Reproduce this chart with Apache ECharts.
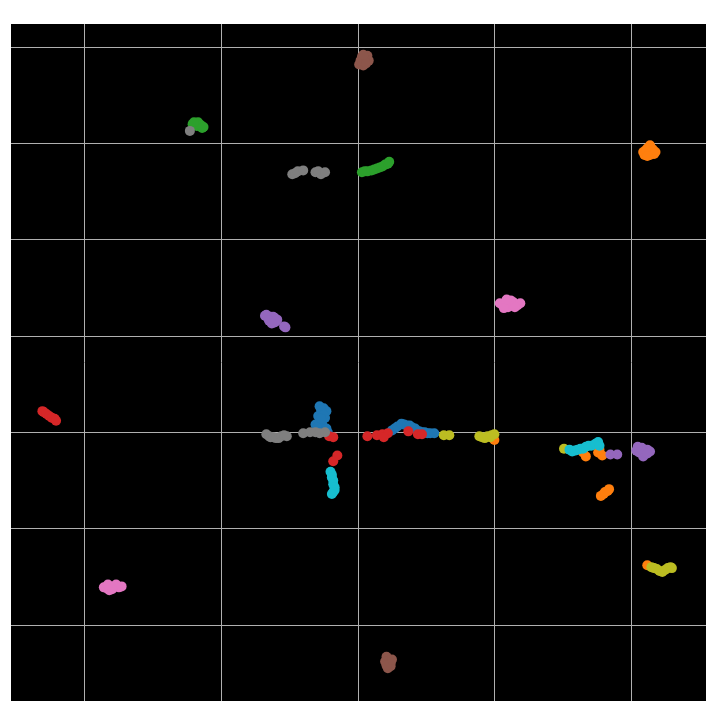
<!DOCTYPE html>
<html>
<head>
    <meta charset="utf-8">
    <title>ECharts</title>
    <script src="https://cdn.jsdelivr.net/npm/echarts@6/dist/echarts.min.js"></script>
</head>
<body>
<style>
    html, body, #main {
        width: 100%;
        padding: 0;
        margin: 0;
        height: 100%;
        background: #fff;
    }
</style>
<div id="main"></div>
<script type="text/javascript">
    // class names / colours (tab10)
    var classNames = ['0', '1', '2', '3', '4', '5', '6', '7', '8', '9'];
    var classColors = ['#1f77b4', '#ff7f0e', '#2ca02c', '#d62728', '#9467bd',
        '#8c564b', '#e377c2', '#7f7f7f', '#bcbd22', '#17becf'];

    // embedding points per class
    var pts0 = [[-0.28, -0.73], [-0.25, -0.75], [-0.23, -0.78], [-0.26, -0.80], [-0.29, -0.83],
        [-0.24, -0.85], [-0.28, -0.89], [-0.31, -0.92], [-0.26, -0.92], [-0.23, -0.96],
        [-0.27, -0.98], [-0.29, -1.00],
        [-0.27, -0.76], [-0.25, -0.82], [-0.27, -0.86], [-0.30, -0.95], [-0.25, -0.99], [-0.22, -1.00],
        [0.25, -0.98], [0.27, -0.96], [0.29, -0.94], [0.32, -0.91], [0.34, -0.92], [0.36, -0.93],
        [0.38, -0.93], [0.40, -0.95], [0.42, -0.96], [0.45, -0.99], [0.47, -1.00], [0.49, -1.00],
        [0.51, -1.01], [0.53, -1.01], [0.56, -1.01]];
    var pts1 = [[2.09, 1.91], [2.12, 1.95], [2.16, 1.94], [2.18, 1.91], [2.14, 1.88], [2.10, 1.88],
        [2.13, 1.91], [2.15, 1.92], [2.11, 1.93], [2.17, 1.89], [2.12, 1.87], [2.14, 1.98],
        [1.00, -1.08],
        [1.65, -1.21], [1.67, -1.25], [1.76, -1.21], [1.79, -1.24], [1.77, -1.18],
        [1.78, -1.66], [1.80, -1.64], [1.81, -1.62], [1.83, -1.61], [1.84, -1.59],
        [2.12, -2.38]];
    var pts2 = [[-1.21, 2.20], [-1.17, 2.22], [-1.14, 2.16], [-1.16, 2.18], [-1.19, 2.19],
        [-1.18, 2.18], [-1.15, 2.19], [-1.13, 2.17], [-1.20, 2.22],
        [0.03, 1.70], [0.05, 1.71], [0.07, 1.71], [0.10, 1.72], [0.12, 1.73], [0.14, 1.74],
        [0.16, 1.75], [0.18, 1.76], [0.20, 1.78], [0.22, 1.79], [0.23, 1.81]];
    var pts3 = [[-2.31, -0.78], [-2.30, -0.79], [-2.28, -0.81], [-2.26, -0.83], [-2.24, -0.85],
        [-2.22, -0.86], [-2.21, -0.88],
        [-0.21, -1.04], [-0.18, -1.05], [-0.15, -1.24], [-0.18, -1.30],
        [0.07, -1.04], [0.14, -1.03], [0.18, -1.02], [0.22, -1.01], [0.19, -1.05],
        [0.37, -0.99], [0.44, -1.02], [0.47, -1.02]];
    var pts4 = [[-0.67, 0.22], [-0.64, 0.20], [-0.62, 0.17], [-0.60, 0.15], [-0.64, 0.18],
        [-0.66, 0.19], [-0.62, 0.20], [-0.61, 0.14], [-0.63, 0.16], [-0.68, 0.21],
        [-0.61, 0.19], [-0.65, 0.16], [-0.59, 0.17], [-0.63, 0.13],
        [-0.53, 0.09], [-0.54, 0.10],
        [2.04, -1.19], [2.08, -1.16], [2.12, -1.18], [2.14, -1.20], [2.09, -1.25],
        [2.06, -1.21], [2.10, -1.21], [2.07, -1.17], [2.12, -1.22], [2.05, -1.15],
        [1.85, -1.23], [1.90, -1.23]];
    var pts5 = [[0.03, 2.90], [0.07, 2.91], [0.08, 2.86], [0.01, 2.82], [0.04, 2.81],
        [0.05, 2.87], [0.02, 2.86], [0.06, 2.83], [0.04, 2.92],
        [0.21, -3.33], [0.23, -3.37], [0.24, -3.43], [0.22, -3.45],
        [0.20, -3.38], [0.24, -3.40], [0.21, -3.42], [0.25, -3.36]];
    var pts6 = [[1.06, 0.32], [1.10, 0.36], [1.14, 0.35], [1.17, 0.32], [1.10, 0.30],
        [1.08, 0.33], [1.13, 0.33], [1.04, 0.34], [1.19, 0.34], [1.12, 0.37], [1.07, 0.29],
        [1.15, 0.30], [1.09, 0.38],
        [-1.86, -2.61], [-1.82, -2.64], [-1.79, -2.60], [-1.75, -2.61],
        [-1.84, -2.62], [-1.80, -2.63], [-1.77, -2.58], [-1.83, -2.58], [-1.73, -2.60]];
    var pts7 = [[-1.23, 2.13],
        [-0.48, 1.68], [-0.46, 1.69], [-0.44, 1.71], [-0.40, 1.72], [-0.31, 1.70], [-0.29, 1.71],
        [-0.27, 1.68], [-0.24, 1.70],
        [-0.67, -1.02], [-0.65, -1.04], [-0.64, -1.05], [-0.62, -1.05], [-0.60, -1.06],
        [-0.58, -1.06], [-0.56, -1.04], [-0.54, -1.03], [-0.52, -1.04],
        [-0.40, -1.01], [-0.35, -1.00], [-0.31, -1.00], [-0.28, -1.01], [-0.24, -1.00]];
    var pts8 = [[0.63, -1.03], [0.67, -1.03],
        [0.89, -1.04], [0.91, -1.05], [0.93, -1.06], [0.95, -1.04], [0.97, -1.05], [0.98, -1.03],
        [1.00, -1.02],
        [1.51, -1.17],
        [2.15, -2.40], [2.17, -2.41], [2.19, -2.42], [2.21, -2.44], [2.23, -2.45], [2.25, -2.43],
        [2.27, -2.41], [2.29, -2.40], [2.30, -2.41]];
    var pts9 = [[-0.20, -1.41], [-0.19, -1.44], [-0.19, -1.47], [-0.18, -1.50], [-0.18, -1.54],
        [-0.17, -1.57], [-0.17, -1.60], [-0.18, -1.62], [-0.19, -1.64],
        [1.55, -1.18], [1.57, -1.20], [1.59, -1.19], [1.61, -1.18], [1.63, -1.17], [1.65, -1.17],
        [1.67, -1.15], [1.69, -1.14], [1.71, -1.14], [1.74, -1.12], [1.76, -1.10], [1.77, -1.14]];

    var allPts = [pts0, pts1, pts2, pts3, pts4, pts5, pts6, pts7, pts8, pts9];

    var myChart = echarts.init(document.getElementById('main'));

    var series = allPts.map(function (pts, i) {
        return {
            type: 'scatter',
            name: classNames[i],
            data: pts,
            symbolSize: 10,
            itemStyle: {color: classColors[i], opacity: 1},
            emphasis: {disabled: true}
        };
    });

    function axis(min, max, n) {
        return {
            type: 'value',
            min: min,
            max: max,
            splitNumber: n,
            axisLine: {show: false},
            axisTick: {show: false},
            axisLabel: {show: false},
            splitLine: {
                show: true,
                showMinLine: false,
                showMaxLine: false,
                lineStyle: {color: '#b0b0b0', width: 1}
            }
        };
    }

    myChart.setOption({
        animation: false,
        backgroundColor: '#fff',
        grid: {
            left: 11, right: 6, top: 24, bottom: 11,
            show: true,
            backgroundColor: '#000',
            borderWidth: 0
        },
        xAxis: axis(-2.54, 2.55, 5),
        yAxis: axis(-3.79, 3.24, 7),
        series: series
    });

    window.onresize = function () {
        myChart.resize();
    };
</script>
</body>
</html>
